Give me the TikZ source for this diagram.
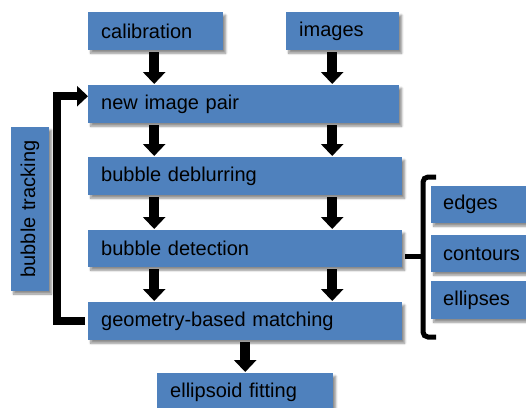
\documentclass[tikz,border=0pt]{standalone}
\usepackage{fontspec}
\setmainfont{Liberation Sans}
\usetikzlibrary{arrows.meta,shadows.blur}

\definecolor{boxblue}{HTML}{4F81BD}

\tikzset{
  bluebox/.style={fill=boxblue, anchor=north west, text width=#1, align=left,
    inner xsep=13pt, inner ysep=0pt, minimum height=38pt,
    font=\fontsize{20}{24}\selectfont, text=black,
    blur shadow={shadow xshift=2.5pt, shadow yshift=-3pt, shadow blur steps=6, shadow opacity=45}},
  blockarrow/.style={line width=10pt, -{Triangle[width=22pt,length=12pt]},
    shorten <=2pt, shorten >=1pt},
  trackarrow/.style={line width=8pt, line join=miter, -{Triangle[width=20pt,length=11pt]}},
  bracket/.style={line width=5pt, rounded corners=5pt}
}

\begin{document}
\begin{tikzpicture}[x=1pt,y=-1pt]
            \useasboundingbox (0,0) rectangle (526,407);
            \coordinate (A) at (88,12);
            \coordinate (B) at (286,12);
            \coordinate (C) at (88,85);
            \coordinate (D) at (88,157);
            \coordinate (E) at (88,230);
            \coordinate (F) at (88,302);
            \coordinate (G) at (157,373);
            \coordinate (H) at (431,186);
            \coordinate (I) at (431,235);
            \coordinate (J) at (431,281);

            \node[bluebox=109pt] (calib) at (A) {calibration};
            \node[bluebox=87pt] (imgs) at (B) {images};
            \node[bluebox=285pt] (pair) at (C) {new image pair};
            \node[bluebox=288pt] (deblur) at (D) {bubble deblurring};
            \node[bluebox=288pt, minimum height=37pt] (detect) at (E) {bubble detection};
            \node[bluebox=288pt] (geom) at (F) {geometry-based matching};
            \node[bluebox=150pt] (fit) at (G) {ellipsoid fitting};
            \node[bluebox=80pt, inner xsep=12pt, minimum height=37pt] (edges) at (H) {edges};
            \node[bluebox=80pt, inner xsep=12pt, minimum height=37pt] (contours) at (I) {contours};
            \node[bluebox=80pt, inner xsep=12pt, minimum height=38pt] (ellipses) at (J) {ellipses};
            \node[bluebox=140pt, anchor=center, align=center, rotate=90, inner xsep=12pt] (track) at (30,209) {bubble tracking};

            \draw[blockarrow] ([xshift=-1.5pt]calib.south) -- ([xshift=-1.5pt]calib.south |- pair.north);
            \draw[blockarrow] ([xshift=-10.5pt]imgs.south) -- ([xshift=-10.5pt]imgs.south |- pair.north);
            \foreach \u/\v in {pair/deblur, deblur/detect, detect/geom} {
                \draw[blockarrow] ([xshift=-1.5pt]calib.south |- \u.south) -- ([xshift=-1.5pt]calib.south |- \v.north);
                \draw[blockarrow] ([xshift=-10.5pt]imgs.south |- \u.south) -- ([xshift=-10.5pt]imgs.south |- \v.north);
            }
            \draw[blockarrow] (fit.north |- geom.south) -- (fit.north);

            \draw[trackarrow] ([xshift=-3pt]geom.west) -- ++(-28,0) |- ([yshift=8pt]pair.west);

            \coordinate (bt) at (436,177);
            \coordinate (bm) at (423,256);
            \coordinate (bb) at (436,337);
            \draw[bracket] (bt) -| (bm) |- (bb);
            \draw[bracket] ([xshift=3pt]detect.east |- bm) -- (bm);
        \end{tikzpicture}
\end{document}
